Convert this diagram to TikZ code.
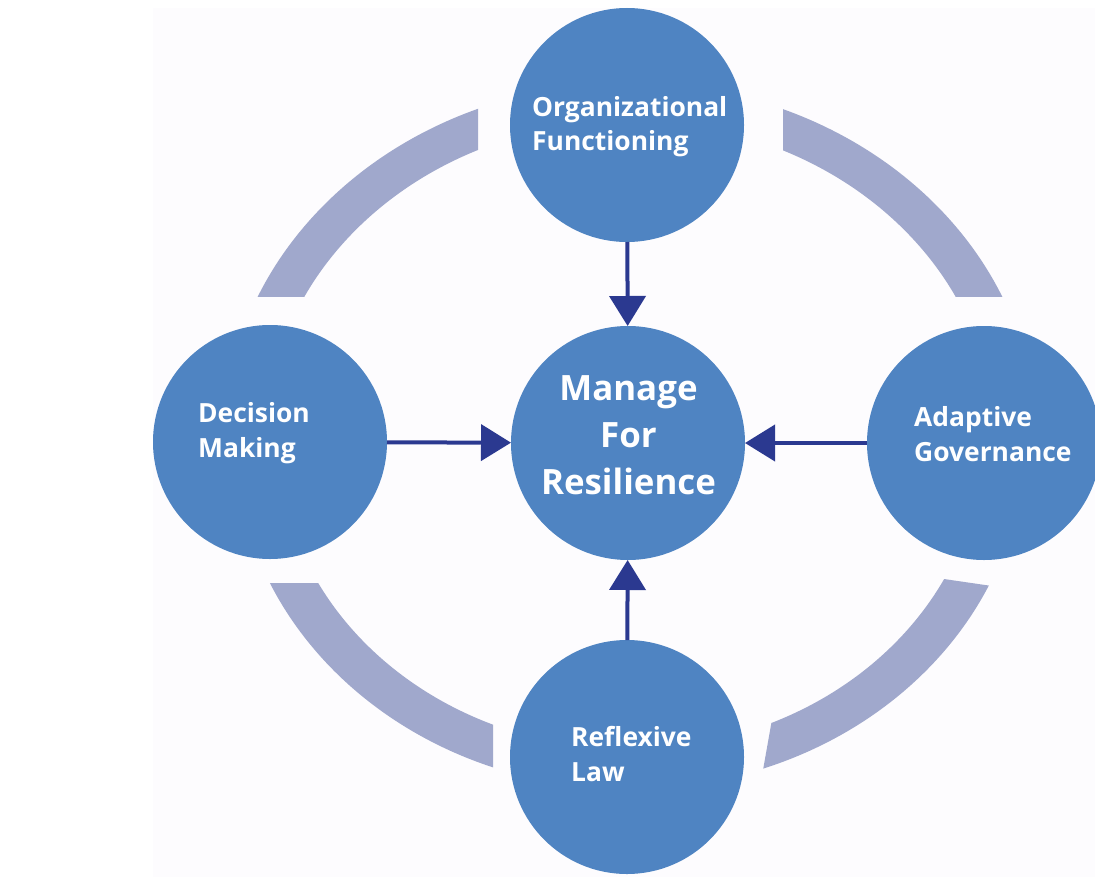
\documentclass[tikz,border=0pt]{standalone}
\usepackage{fontspec}
\setmainfont{Open Sans}
\usetikzlibrary{arrows.meta}
\definecolor{circ}{RGB}{79,132,194}
\definecolor{band}{RGB}{160,168,204}
\definecolor{arrc}{RGB}{43,57,144}
\definecolor{bgc}{RGB}{253,252,254}
\begin{document}
\begin{tikzpicture}[x=1bp,y=-1bp,
  bubble/.style={circle,fill=circ,minimum size=234bp,inner sep=0pt,outer sep=0pt},
  lbl/.style={text=white,font=\bfseries\fontsize{26.5}{35}\selectfont,anchor=base west,inner sep=0pt},
  biglbl/.style={text=white,font=\bfseries\fontsize{35}{47}\selectfont,anchor=base,inner sep=0pt},
  link/.style={draw=arrc,line width=4bp,-{Triangle[width=36bp,length=30bp]}},
  bandfill/.style={fill=band,even odd rule}
]
\useasboundingbox (0,0) rectangle (1095,877);
\fill[bgc] (153,8) rectangle (1095,877);

% bands
\begin{scope}
  \clip (0,0) rectangle (478,296);
  \fill[bandfill] (630,439) ellipse [x radius=406, y radius=356] (630,439) ellipse [x radius=364, y radius=318];
\end{scope}
\begin{scope}
  \clip (783,0) rectangle (1095,296);
  \fill[bandfill] (630,439) ellipse [x radius=406, y radius=356] (630,439) ellipse [x radius=364, y radius=318];
\end{scope}
\begin{scope}
  \clip (0,583) rectangle (493,877);
  \fill[bandfill] (630,439) ellipse [x radius=395, y radius=350] (630,439) ellipse [x radius=352, y radius=310];
\end{scope}
\begin{scope}
  \clip (744,877) -- (779,680) -- (900,572.6) -- (1095,601) -- (1095,877) -- cycle;
  \fill[bandfill] (630,439) ellipse [x radius=395, y radius=350] (630,439) ellipse [x radius=352, y radius=310];
\end{scope}

% circles
\node[bubble] (org) at (627,125) {};
\node[bubble] (dec) at (270,442) {};
\node[bubble] (ada) at (984,443) {};
\node[bubble] (ref) at (627,757) {};
\node[bubble] (mfr) at (628,443) {};

% labels
\node[lbl] (torg) at (532,116) {\begin{tabular}[t]{@{}l@{}}Organizational\\Functioning\end{tabular}};
\node[lbl] (tdec) at (198,422.7) {\begin{tabular}[t]{@{}l@{}}Decision\\Making\end{tabular}};
\node[lbl] (tada) at (914,426.7) {\begin{tabular}[t]{@{}l@{}}Adaptive\\Governance\end{tabular}};
\node[lbl] (tref) at (571,746.7) {\begin{tabular}[t]{@{}l@{}}Reflexive\\Law\end{tabular}};
\node[biglbl] (tmfr) at (628.5,400.7) {\begin{tabular}[t]{@{}c@{}}Manage\\For\\Resilience\end{tabular}};

% arrows
\draw[link] (org) -- (mfr);
\draw[link] (dec) -- (mfr);
\draw[link] (ada) -- (mfr);
\draw[link] (ref) -- (mfr);
\end{tikzpicture}
\end{document}
